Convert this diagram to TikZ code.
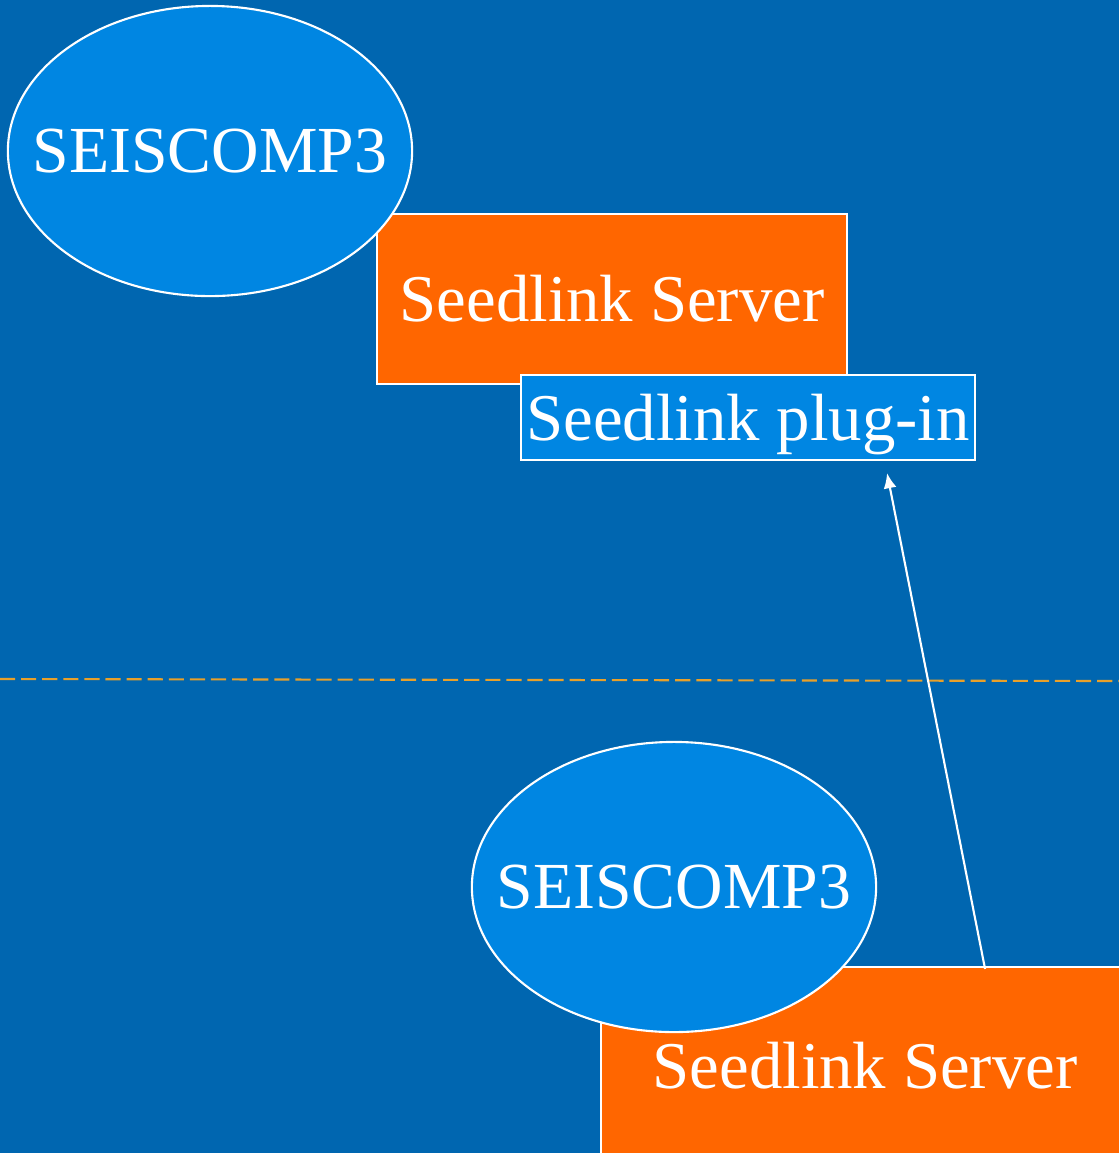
\documentclass[tikz,border=0pt]{standalone}
\usepackage{fontspec}
\setmainfont{Liberation Serif}
\usepackage{tikz}
\usetikzlibrary{shapes,arrows.meta}
\definecolor{bgblue}{RGB}{0,102,176}
\definecolor{lightblue}{RGB}{0,134,226}
\definecolor{srvorange}{RGB}{255,102,0}
\definecolor{dashorange}{RGB}{232,160,42}
\tikzstyle{cloud} = [draw=white, ellipse, fill=lightblue, line width=0.6pt,
    font=\fontsize{18.7}{22}\selectfont, inner xsep=-0.4cm, inner ysep=0pt,
    minimum width=4.04cm, minimum height=2.90cm]
\tikzstyle{block} = [rectangle, draw=white, fill=srvorange, line width=0.6pt,
    minimum width=4.70cm, minimum height=1.70cm, inner sep=0pt]
\tikzstyle{blockp} = [rectangle, draw=white, fill=lightblue, line width=0.6pt,
    minimum width=4.54cm, minimum height=0.85cm, inner sep=0pt, text depth=0pt]
\tikzstyle{line} = [draw=white, line width=0.6pt, -{Latex[length=4.3pt,width=3.7pt]}]
\tikzstyle{border} = [draw=dashorange, line width=0.6pt, dash pattern=on 4.3pt off 1.7pt]

\begin{document}
\begin{tikzpicture}[x=0.01cm, y=-0.01cm, text=white,
  every node/.style={font=\fontsize{19}{22}\selectfont}]
    % Background
    \clip (0,0) rectangle (1119,1153);
    \fill [bgblue] (0,0) rectangle (1119,1153);

    % Place nodes
    \node [block] (srv) at (612,299) {Seedlink Server};
    \node [cloud] (sc) at (210,151) {SEISCOMP3};
    \node [blockp] (plugin) at (748,417.5) {Seedlink plug-in};
    \node [block, minimum width=5.28cm, minimum height=1.98cm] (srvb)
      at (865,1066) {Seedlink Server};
    \node [cloud] (scb) at (674,887) {SEISCOMP3};

    % Draw edges
    \path [border] (0,679) -- (1119,681);
    \path [line] ([xshift=1.2cm, yshift=-0.03cm]srvb.north)
      -- ([xshift=1.39cm, yshift=-0.12cm]plugin.south);

\end{tikzpicture}
\end{document}
